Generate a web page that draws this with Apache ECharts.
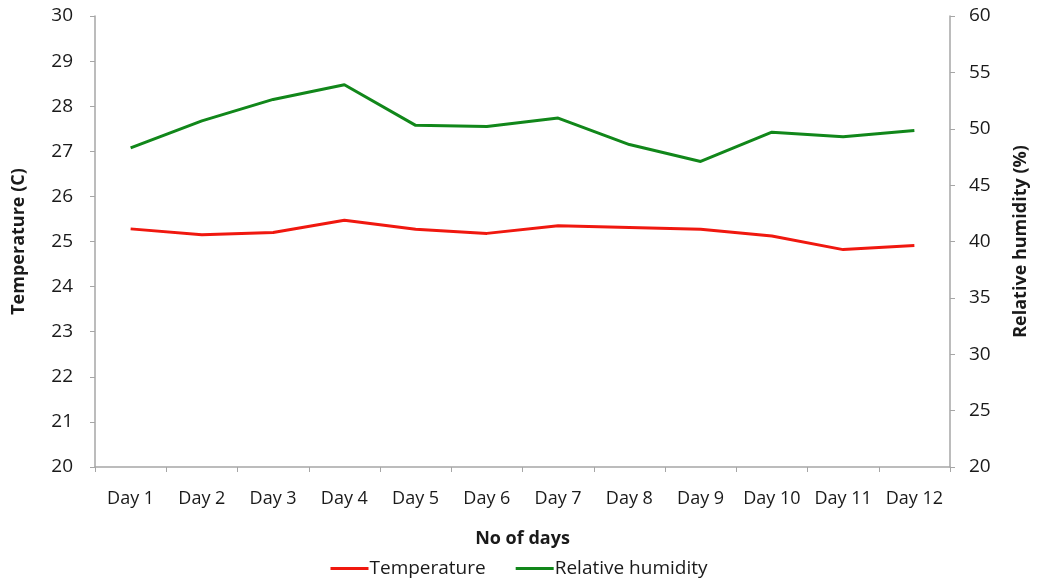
<!DOCTYPE html>
<html>
<head>
<meta charset="utf-8">
<script src="https://cdn.jsdelivr.net/npm/echarts@6/dist/echarts.min.js"></script>
<style>
  html, body { margin: 0; padding: 0; background: #fff; }
  #chart { width: 1038px; height: 583px; }
</style>
</head>
<body>
<div id="chart"></div>
<script>
// Daily readings over twelve days
const days = ['Day 1', 'Day 2', 'Day 3', 'Day 4', 'Day 5', 'Day 6',
              'Day 7', 'Day 8', 'Day 9', 'Day 10', 'Day 11', 'Day 12'];
const temperature = [25.28, 25.15, 25.2, 25.47, 25.27, 25.18, 25.35, 25.31, 25.27, 25.12, 24.82, 24.91];
const humidity = [48.3, 50.7, 52.6, 53.9, 50.3, 50.2, 50.95, 48.6, 47.1, 49.7, 49.3, 49.85];

const font = 'Open Sans, Liberation Sans, sans-serif';
const axisGrey = '#a6a6a6';
const textColor = '#1a1a1a';

const chart = echarts.init(document.getElementById('chart'));
chart.setOption({
  backgroundColor: '#fff',
  animation: false,
  textStyle: { fontFamily: font },
  grid: { left: 95, right: 86, top: 16, bottom: 116, containLabel: false },
  legend: {
    bottom: 0,
    left: 'center',
    itemGap: 30,
    itemWidth: 38,
    itemHeight: 3,
    icon: 'rect',
    textStyle: { fontSize: 19, color: textColor, fontFamily: font, padding: [0, 0, 0, -4] },
    data: ['Temperature', 'Relative humidity']
  },
  xAxis: {
    type: 'category',
    data: days,
    boundaryGap: true,
    name: 'No of days',
    nameLocation: 'middle',
    nameGap: 63,
    nameTextStyle: { fontSize: 18, fontWeight: 'bold', color: textColor },
    axisLine: { lineStyle: { color: axisGrey, width: 1.5 } },
    axisTick: { show: true, length: 5, lineStyle: { color: axisGrey } },
    axisLabel: { fontSize: 18, color: textColor, margin: 23, interval: 0 }
  },
  yAxis: [
    {
      type: 'value',
      min: 20, max: 30, interval: 1,
      name: 'Temperature (C)',
      nameLocation: 'middle',
      nameGap: 67,
      nameTextStyle: { fontSize: 18, fontWeight: 'bold', color: textColor },
      axisLine: { show: true, lineStyle: { color: axisGrey, width: 1.5 } },
      axisTick: { show: true, length: 5, lineStyle: { color: axisGrey } },
      splitLine: { show: false },
      axisLabel: { fontSize: 19, color: textColor, margin: 22 }
    },
    {
      type: 'value',
      min: 20, max: 60, interval: 5,
      position: 'right',
      name: 'Relative humidity (%)',
      nameLocation: 'middle',
      nameGap: 62,
      nameTextStyle: { fontSize: 18, fontWeight: 'bold', color: textColor },
      axisLine: { show: true, lineStyle: { color: axisGrey, width: 1.5 } },
      axisTick: { show: true, length: 5, lineStyle: { color: axisGrey } },
      splitLine: { show: false },
      axisLabel: { fontSize: 19, color: textColor, margin: 19 }
    }
  ],
  series: [
    {
      name: 'Temperature',
      type: 'line',
      yAxisIndex: 0,
      data: temperature,
      showSymbol: false,
      lineStyle: { color: '#f0180f', width: 3 },
      itemStyle: { color: '#f0180f' }
    },
    {
      name: 'Relative humidity',
      type: 'line',
      yAxisIndex: 1,
      data: humidity,
      showSymbol: false,
      lineStyle: { color: '#11871a', width: 3 },
      itemStyle: { color: '#11871a' }
    }
  ]
});
</script>
</body>
</html>
